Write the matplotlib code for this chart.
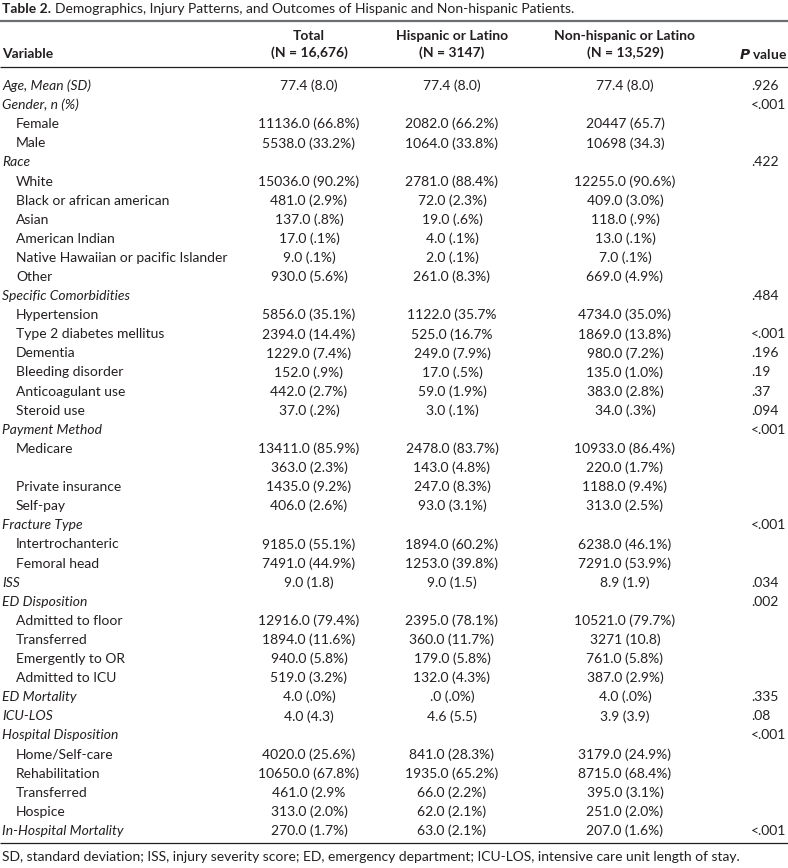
import matplotlib
matplotlib.use("Agg")
import matplotlib.pyplot as plt

plt.rcParams['font.family'] = ['Lato', 'DejaVu Sans']

# table content
variables = [
    "Age, Mean (SD)", "Gender, n (%)", "Female", "Male", "Race", "White",
    "Black or african american", "Asian", "American Indian",
    "Native Hawaiian or pacific Islander", "Other", "Specific Comorbidities",
    "Hypertension", "Type 2 diabetes mellitus", "Dementia", "Bleeding disorder",
    "Anticoagulant use", "Steroid use", "Payment Method", "Medicare", "",
    "Private insurance", "Self-pay", "Fracture Type", "Intertrochanteric",
    "Femoral head", "ISS", "ED Disposition", "Admitted to floor", "Transferred",
    "Emergently to OR", "Admitted to ICU", "ED Mortality", "ICU-LOS",
    "Hospital Disposition", "Home/Self-care", "Rehabilitation", "Transferred",
    "Hospice", "In-Hospital Mortality",
]
# 1 = italic group heading, 0 = indented item
is_group = [1, 1, 0, 0, 1, 0, 0, 0, 0, 0, 0, 1, 0, 0, 0, 0, 0, 0, 1, 0, 0, 0, 0,
            1, 0, 0, 1, 1, 0, 0, 0, 0, 1, 1, 1, 0, 0, 0, 0, 1]
total = [
    "77.4 (8.0)", "", "11136.0 (66.8%)", "5538.0 (33.2%)", "", "15036.0 (90.2%)",
    "481.0 (2.9%)", "137.0 (.8%)", "17.0 (.1%)", "9.0 (.1%)", "930.0 (5.6%)", "",
    "5856.0 (35.1%)", "2394.0 (14.4%)", "1229.0 (7.4%)", "152.0 (.9%)",
    "442.0 (2.7%)", "37.0 (.2%)", "", "13411.0 (85.9%)", "363.0 (2.3%)",
    "1435.0 (9.2%)", "406.0 (2.6%)", "", "9185.0 (55.1%)", "7491.0 (44.9%)",
    "9.0 (1.8)", "", "12916.0 (79.4%)", "1894.0 (11.6%)", "940.0 (5.8%)",
    "519.0 (3.2%)", "4.0 (.0%)", "4.0 (4.3)", "", "4020.0 (25.6%)",
    "10650.0 (67.8%)", "461.0 (2.9%", "313.0 (2.0%)", "270.0 (1.7%)",
]
hispanic = [
    "77.4 (8.0)", "", "2082.0 (66.2%)", "1064.0 (33.8%)", "", "2781.0 (88.4%)",
    "72.0 (2.3%)", "19.0 (.6%)", "4.0 (.1%)", "2.0 (.1%)", "261.0 (8.3%)", "",
    "1122.0 (35.7%", "525.0 (16.7%", "249.0 (7.9%)", "17.0 (.5%)",
    "59.0 (1.9%)", "3.0 (.1%)", "", "2478.0 (83.7%)", "143.0 (4.8%)",
    "247.0 (8.3%)", "93.0 (3.1%)", "", "1894.0 (60.2%)", "1253.0 (39.8%)",
    "9.0 (1.5)", "", "2395.0 (78.1%)", "360.0 (11.7%)", "179.0 (5.8%)",
    "132.0 (4.3%)", ".0 (.0%)", "4.6 (5.5)", "", "841.0 (28.3%)",
    "1935.0 (65.2%)", "66.0 (2.2%)", "62.0 (2.1%)", "63.0 (2.1%)",
]
non_hispanic = [
    "77.4 (8.0)", "", "20447 (65.7)", "10698 (34.3)", "", "12255.0 (90.6%)",
    "409.0 (3.0%)", "118.0 (.9%)", "13.0 (.1%)", "7.0 (.1%)", "669.0 (4.9%)", "",
    "4734.0 (35.0%)", "1869.0 (13.8%)", "980.0 (7.2%)", "135.0 (1.0%)",
    "383.0 (2.8%)", "34.0 (.3%)", "", "10933.0 (86.4%)", "220.0 (1.7%)",
    "1188.0 (9.4%)", "313.0 (2.5%)", "", "6238.0 (46.1%)", "7291.0 (53.9%)",
    "8.9 (1.9)", "", "10521.0 (79.7%)", "3271 (10.8)", "761.0 (5.8%)",
    "387.0 (2.9%)", "4.0 (.0%)", "3.9 (3.9)", "", "3179.0 (24.9%)",
    "8715.0 (68.4%)", "395.0 (3.1%)", "251.0 (2.0%)", "207.0 (1.6%)",
]
p_values = [
    ".926", "<.001", "", "", ".422", "", "", "", "", "", "", ".484", "", "<.001",
    ".196", ".19", ".37", ".094", "<.001", "", "", "", "", "<.001", "", "",
    ".034", ".002", "", "", "", "", ".335", ".08", "<.001", "", "", "", "",
    "<.001",
]
col_heads = [("Total", "(N = 16,676)"), ("Hispanic or Latino", "(N = 3147)"),
             ("Non-hispanic or Latino", "(N = 13,529)")]

W, H = 788, 868
fig = plt.figure(figsize=(W / 100, H / 100), dpi=100)
ax = fig.add_axes([0, 0, 1, 1])
ax.set_xlim(0, W)
ax.set_ylim(H, 0)
ax.axis("off")

fs = 10
ink = "#231f20"
col_x = [309, 452, 625]

# title
t = ax.text(2, 9, "Table 2.", fontsize=fs, fontweight="bold", color=ink, va="center")
fig.canvas.draw()
bb = t.get_window_extent()
x_end = bb.x1 + 4
ax.text(x_end, 9, "Demographics, Injury Patterns, and Outcomes of Hispanic and "
        "Non-hispanic Patients.", fontsize=fs, color=ink, va="center")

# rules
ax.plot([0, W], [21, 21], color="#6d6e71", lw=1.6, solid_capstyle="butt")
ax.plot([0, W], [67, 67], color=ink, lw=0.9, solid_capstyle="butt")
ax.plot([0, W], [843, 843], color=ink, lw=0.9, solid_capstyle="butt")

# header
ax.text(2, 54, "Variable", fontsize=fs, fontweight="bold", color=ink, va="center")
for (h1, h2), cx in zip(col_heads, col_x):
    ax.text(cx, 36, h1, fontsize=fs, fontweight="bold", color=ink,
            ha="center", va="center")
    ax.text(cx, 53, h2, fontsize=fs, fontweight="bold", color=ink,
            ha="center", va="center")
ax.text(787, 54, r"$\bfit{P}$ value", fontsize=fs, fontweight="bold", color=ink,
        ha="right", va="center")

# body rows
for i, name in enumerate(variables):
    y = 86 + 19.1 * i
    if is_group[i]:
        ax.text(2, y, name, fontsize=fs, style="italic", color=ink, va="center")
    else:
        ax.text(16, y, name, fontsize=fs, color=ink, va="center")
    for vals, cx in zip([total, hispanic, non_hispanic], col_x):
        ax.text(cx, y, vals[i], fontsize=fs, color=ink, ha="center", va="center")
    ax.text(751, y, p_values[i], fontsize=fs, color=ink, va="center")

ax.text(2, 857, "SD, standard deviation; ISS, injury severity score; ED, emergency "
        "department; ICU-LOS, intensive care unit length of stay.",
        fontsize=fs, color=ink, va="center")

fig.savefig("out.png", dpi=100)
